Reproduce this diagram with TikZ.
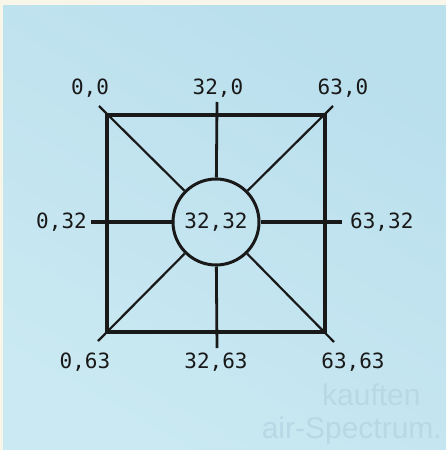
\documentclass[tikz,border=0pt]{standalone}
\usepackage{fontspec}
\newfontfamily\labelfont{DejaVu Sans Mono}
\newfontfamily\ghostfont{Liberation Sans}
\definecolor{paper}{RGB}{248,246,232}
\definecolor{bluea}{RGB}{186,223,237}
\definecolor{blueb}{RGB}{202,233,242}
\definecolor{ghost}{RGB}{184,216,230}
\definecolor{ink}{RGB}{25,25,25}
\begin{document}
\begin{tikzpicture}[x=1pt,y=-1pt,
  lbl/.style={font=\labelfont\fontsize{21}{22}\selectfont, text=ink, inner sep=0pt},
  sqline/.style={draw=ink, line width=3.4pt},
  spoke/.style={draw=ink, line width=2.2pt},
  ring/.style={circle, draw=ink, line width=3pt, minimum size=86pt, inner sep=0pt},
  ghosttext/.style={font=\ghostfont\fontsize{30}{30}\selectfont, text=ghost, inner sep=0pt}]
\useasboundingbox (0,0) rectangle (446,450);
\fill[paper] (0,0) rectangle (446,450);
\shade[top color=bluea, bottom color=blueb, shading angle=-30] (3,5) rectangle (446,450);
\node[ghosttext, anchor=base west] (g1) at (322,405) {kauften};
\node[ghosttext, anchor=base east] (g2) at (442,438) {air-Spectrum.};
% square corners and spoke ends
\coordinate (TL) at (107,115);
\coordinate (TR) at (325,115);
\coordinate (BL) at (107,332);
\coordinate (BR) at (325,332);
\coordinate (eTL) at (99,106);
\coordinate (eTR) at (333,106);
\coordinate (eBL) at (98,341);
\coordinate (eBR) at (334,342);
\coordinate (eT) at (217,102);
\coordinate (eB) at (217,348);
\coordinate (eL) at (91,222);
\coordinate (eR) at (342,222);
\node[ring] (c) at (216,222) {};
\node[lbl] (c32) at (216,222) {32,32};
% square
\draw[sqline] (TL) -- (TR) -- (BR) -- (BL) -- cycle;
% spokes
\draw[spoke] (eTL) -- (c);
\draw[spoke] (eTR) -- (c);
\draw[spoke] (eBL) -- (c);
\draw[spoke] (eBR) -- (c);
\draw[sqline, line width=2.8pt] (eT) -- (c);
\draw[sqline, line width=2.8pt] (eB) -- (c);
\draw[sqline, line width=3.2pt] (eL) -- (c);
\draw[sqline, line width=3.2pt] (eR) -- (c);
% labels
\node[lbl] (l00) at (90,88) {0,0};
\node[lbl] (l320) at (218,88) {32,0};
\node[lbl] (l630) at (343,88) {63,0};
\node[lbl, anchor=east] (l032) at (87,222) {0,32};
\node[lbl, anchor=west] (l6332) at (350,222) {63,32};
\node[lbl] (l063) at (85,362) {0,63};
\node[lbl] (l3263) at (216,362) {32,63};
\node[lbl] (l6363) at (353,362) {63,63};
\end{tikzpicture}
\end{document}
